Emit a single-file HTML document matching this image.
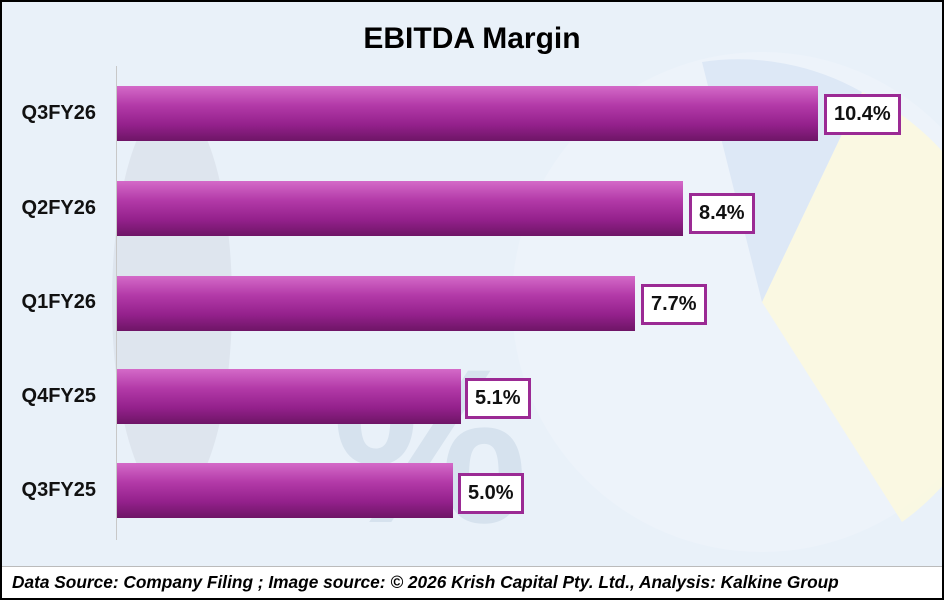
<!DOCTYPE html>
<html><head><meta charset="utf-8"><style>
body{margin:0;width:944px;height:600px;overflow:hidden;font-family:"Liberation Sans",sans-serif;}
.wrap{position:absolute;left:0;top:0;width:940px;height:596px;border:2px solid #000;background:#e9f1f9;overflow:hidden}
.title{position:absolute;left:0;width:940px;top:20px;text-align:center;font-weight:bold;font-size:30px;color:#000}
.bar{position:absolute;left:115px;height:55px;background:linear-gradient(#d46ac8 0%,#b33aa8 35%,#94218c 70%,#6e1566 100%)}
.lab{position:absolute;left:0;width:94px;text-align:right;font-weight:bold;font-size:20px;color:#111}
.val{position:absolute;height:35px;line-height:35px;border:3px solid #9b2a94;background:#fff;font-weight:bold;font-size:20px;padding:0 7px;color:#111}
.axis{position:absolute;left:114px;top:64px;width:1px;height:474px;background:#c8c8c8}
.foot{position:absolute;left:0;top:564px;width:940px;height:32px;background:#fff;border-top:1px solid #bbb;font-weight:bold;font-style:italic;font-size:17.3px;line-height:30px;padding-left:10px;box-sizing:border-box;white-space:nowrap}
</style></head><body><div class="wrap">
<svg width="940" height="596" style="position:absolute;left:0;top:0">
<circle cx="760" cy="300" r="250" fill="#edf3fa"/>
<path d="M760 300 L860 90 A250 250 0 0 1 900 520 Z" fill="#fbf8df" opacity="0.9"/>
<path d="M760 300 L700 60 A250 250 0 0 1 860 90 Z" fill="#dde8f6"/>
<ellipse cx="170" cy="300" rx="60" ry="200" fill="#d9e0ea" opacity="0.7"/>
<text x="330" y="520" font-size="220" font-weight="bold" fill="#d6e2ee" font-family="Liberation Sans">%</text>
</svg>
<div class="title">EBITDA Margin</div>
<div class="axis"></div>
<div class="bar" style="top:84px;width:701px"></div>
<div class="bar" style="top:179px;width:566px"></div>
<div class="bar" style="top:274px;width:518px"></div>
<div class="bar" style="top:367px;width:344px"></div>
<div class="bar" style="top:461px;width:336px"></div>
<div class="lab" style="top:100px">Q3FY26</div>
<div class="lab" style="top:195px">Q2FY26</div>
<div class="lab" style="top:289px">Q1FY26</div>
<div class="lab" style="top:383px">Q4FY25</div>
<div class="lab" style="top:477px">Q3FY25</div>
<div class="val" style="left:822px;top:92px">10.4%</div>
<div class="val" style="left:687px;top:191px">8.4%</div>
<div class="val" style="left:639px;top:282px">7.7%</div>
<div class="val" style="left:463px;top:376px">5.1%</div>
<div class="val" style="left:456px;top:471px">5.0%</div>
<div class="foot">Data Source: Company Filing ; Image source: © 2026 Krish Capital Pty. Ltd., Analysis: Kalkine Group</div>
</div></body></html>
